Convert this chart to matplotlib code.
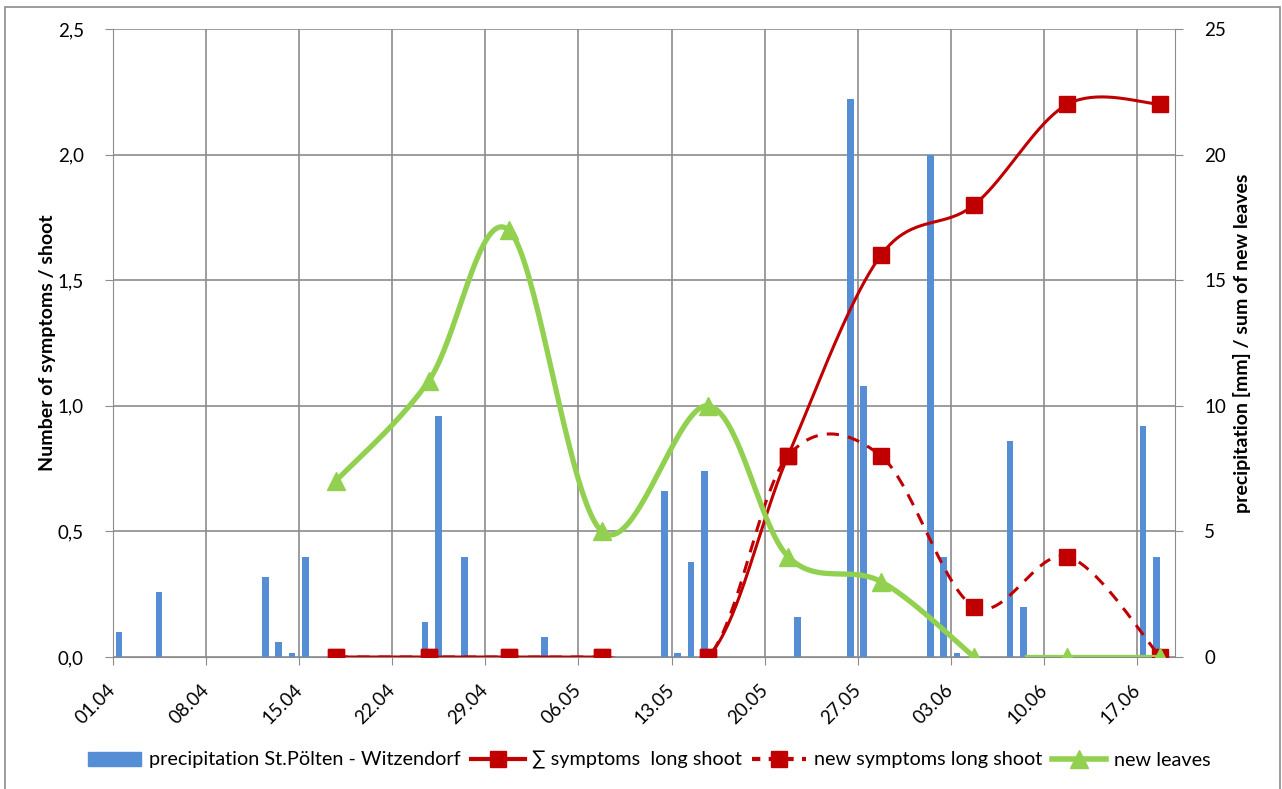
import numpy as np
import pandas as pd
import matplotlib
matplotlib.use('Agg')
import matplotlib.pyplot as plt
from matplotlib.patches import Rectangle, Patch
from matplotlib.lines import Line2D

plt.rcParams['font.family'] = ['Lato', 'DejaVu Sans']

# data
start = pd.Timestamp('2013-04-01')
precip_dates = ['01.04', '04.04', '12.04', '13.04', '14.04', '15.04', '24.04', '25.04',
                '27.04', '03.05', '12.05', '13.05', '14.05', '15.05', '22.05', '26.05',
                '27.05', '01.06', '02.06', '03.06', '07.06', '08.06', '17.06', '18.06']
precip_mm = [1.0, 2.6, 3.2, 0.6, 0.15, 4.0, 1.4, 9.6, 4.0, 0.8, 6.6, 0.15,
             3.8, 7.4, 1.6, 22.2, 10.8, 20.0, 4.0, 0.15, 8.6, 2.0, 9.2, 4.0]

obs_dates = ['18.04', '25.04', '01.05', '08.05', '16.05', '22.05', '29.05', '05.06', '12.06', '19.06']
sum_symptoms = [0, 0, 0, 0, 0, 0.8, 1.6, 1.8, 2.2, 2.2]
new_symptoms = [0, 0, 0, 0, 0, 0.8, 0.8, 0.2, 0.4, 0.0]

leaves_dates = ['18.04', '25.04', '01.05', '08.05', '16.05', '22.05', '29.05', '05.06',
                '09.06', '12.06', '19.06']
new_leaves = [7, 11, 17, 5, 10, 4, 3, 0, 0, 0, 0]

tick_labels = ['01.04', '08.04', '15.04', '22.04', '29.04', '06.05', '13.05',
               '20.05', '27.05', '03.06', '10.06', '17.06']


def to_day(lst):
    return np.array([(pd.to_datetime(d + '.2013', format='%d.%m.%Y') - start).days for d in lst], float)


def smooth(xs, ys, n=40):
    # excel-like smoothed line (catmull-rom bezier)
    p = np.column_stack([xs, ys])
    out = []
    for i in range(len(p) - 1):
        p0 = p[max(i - 1, 0)]
        p1 = p[i]
        p2 = p[i + 1]
        p3 = p[min(i + 2, len(p) - 1)]
        c1 = p1 + (p2 - p0) / 6
        c2 = p2 - (p3 - p1) / 6
        t = np.linspace(0, 1, n)[:, None]
        out.append((1 - t)**3 * p1 + 3 * (1 - t)**2 * t * c1 + 3 * (1 - t) * t**2 * c2 + t**3 * p2)
    return np.vstack(out)


blue = '#558ED5'
red = '#C00000'
green = '#92D050'
grey = '#8C8C8C'
fs = 13.5

fig = plt.figure(figsize=(12.82, 7.89), dpi=100)
rect = [113 / 1282, 1 - 657 / 789, (1175 - 113) / 1282, (657 - 29) / 789]

ax_b = fig.add_axes(rect, zorder=0)   # bars, right scale
ax = fig.add_axes(rect, zorder=1, sharex=ax_b)     # symptoms, left scale
ax_g = fig.add_axes(rect, zorder=2, sharex=ax_b)   # leaves, right scale
ax.patch.set_visible(False)
ax_g.patch.set_visible(False)

pd_days = to_day(precip_dates)
ax_b.bar(pd_days + 0.45, precip_mm, width=0.5, color=blue, zorder=2)

od = to_day(obs_dates) - 0.25
s = smooth(od, sum_symptoms)
ax.plot(s[:, 0], s[:, 1], color=red, lw=2.2, zorder=3)
ax.plot(od, sum_symptoms, ls='none', marker='s', ms=12, color=red, zorder=4)
s = smooth(od, new_symptoms)
ax.plot(s[:, 0], s[:, 1], color=red, lw=2.2, ls=(0, (4, 3)), zorder=3)
ax.plot(od, new_symptoms, ls='none', marker='s', ms=12, color=red, zorder=4)

ld = to_day(leaves_dates) - 0.25
nl = np.array(new_leaves, float)
for seg in [slice(0, 8), slice(8, 11)]:
    s = smooth(ld[seg], nl[seg])
    ax_g.plot(s[:, 0], s[:, 1], color=green, lw=3.8, zorder=3)
mk = [i for i in range(len(ld)) if i != 8]
ax_g.plot(ld[mk], nl[mk], ls='none', marker='^', ms=13, color=green, zorder=4)

ax_b.set_xlim(0, 79.85)
ax_b.set_ylim(0, 25)
ax_g.set_ylim(0, 25)
ax.set_ylim(0, 2.5)

ax_b.set_xticks(np.arange(len(tick_labels)) * 7)
ax_b.set_xticklabels(tick_labels, rotation=45, ha='right', va='center', rotation_mode='anchor')
ax_b.set_yticks(np.arange(0, 26, 5))
ax_b.yaxis.tick_right()
ax_b.yaxis.set_label_position('right')
ax_b.grid(True, color=grey, lw=1.2)
ax_b.set_axisbelow(True)
ax_b.tick_params(axis='both', direction='out', length=6, color=grey, labelsize=fs, pad=15)
ax_b.tick_params(axis='x', pad=16)
ax_b.set_ylabel('precipitation [mm] / sum of new leaves', fontsize=14, fontweight='bold',
                rotation=90, labelpad=5)

ax.set_yticks(np.arange(0, 2.51, 0.5))
ax.set_yticklabels([f'{v:.1f}'.replace('.', ',') for v in np.arange(0, 2.51, 0.5)])
ax.tick_params(axis='y', direction='out', length=6, color=grey, labelsize=fs, pad=15)
ax.tick_params(axis='x', bottom=False, labelbottom=False)
ax.set_ylabel('Number of symptoms / shoot', fontsize=14, fontweight='bold', labelpad=1)

ax_g.axis('off')

for a in (ax_b, ax):
    for sp in a.spines.values():
        sp.set_visible(False)
ax.spines['left'].set_visible(True)
ax.spines['left'].set_color(grey)
ax_b.spines['right'].set_visible(True)
ax_b.spines['right'].set_color(grey)
ax_b.spines['bottom'].set_visible(True)
ax_b.spines['bottom'].set_color(grey)

handles = [Patch(color=blue),
           Line2D([], [], color=red, lw=3, marker='s', ms=12),
           Line2D([], [], color=red, lw=3, ls=(0, (2, 2)), marker='s', ms=12),
           Line2D([], [], color=green, lw=4, marker='^', ms=13)]
labels = ['precipitation St.Pölten - Witzendorf', '∑ symptoms  long shoot',
          'new symptoms long shoot', 'new leaves']
fig.legend(handles, labels, loc='center', bbox_to_anchor=(0.5 + 8 / 1282, 1 - 760 / 789), ncol=4,
           frameon=False, fontsize=14.3, handlelength=2.7, columnspacing=0.5, handletextpad=0.4)

fig.patches.append(Rectangle((5 / 1282, -0.01), 1275 / 1282, 1 - 7 / 789 + 0.01,
                             transform=fig.transFigure, fill=False, ec=grey, lw=1.2))

fig.savefig('out.png', dpi=100)
